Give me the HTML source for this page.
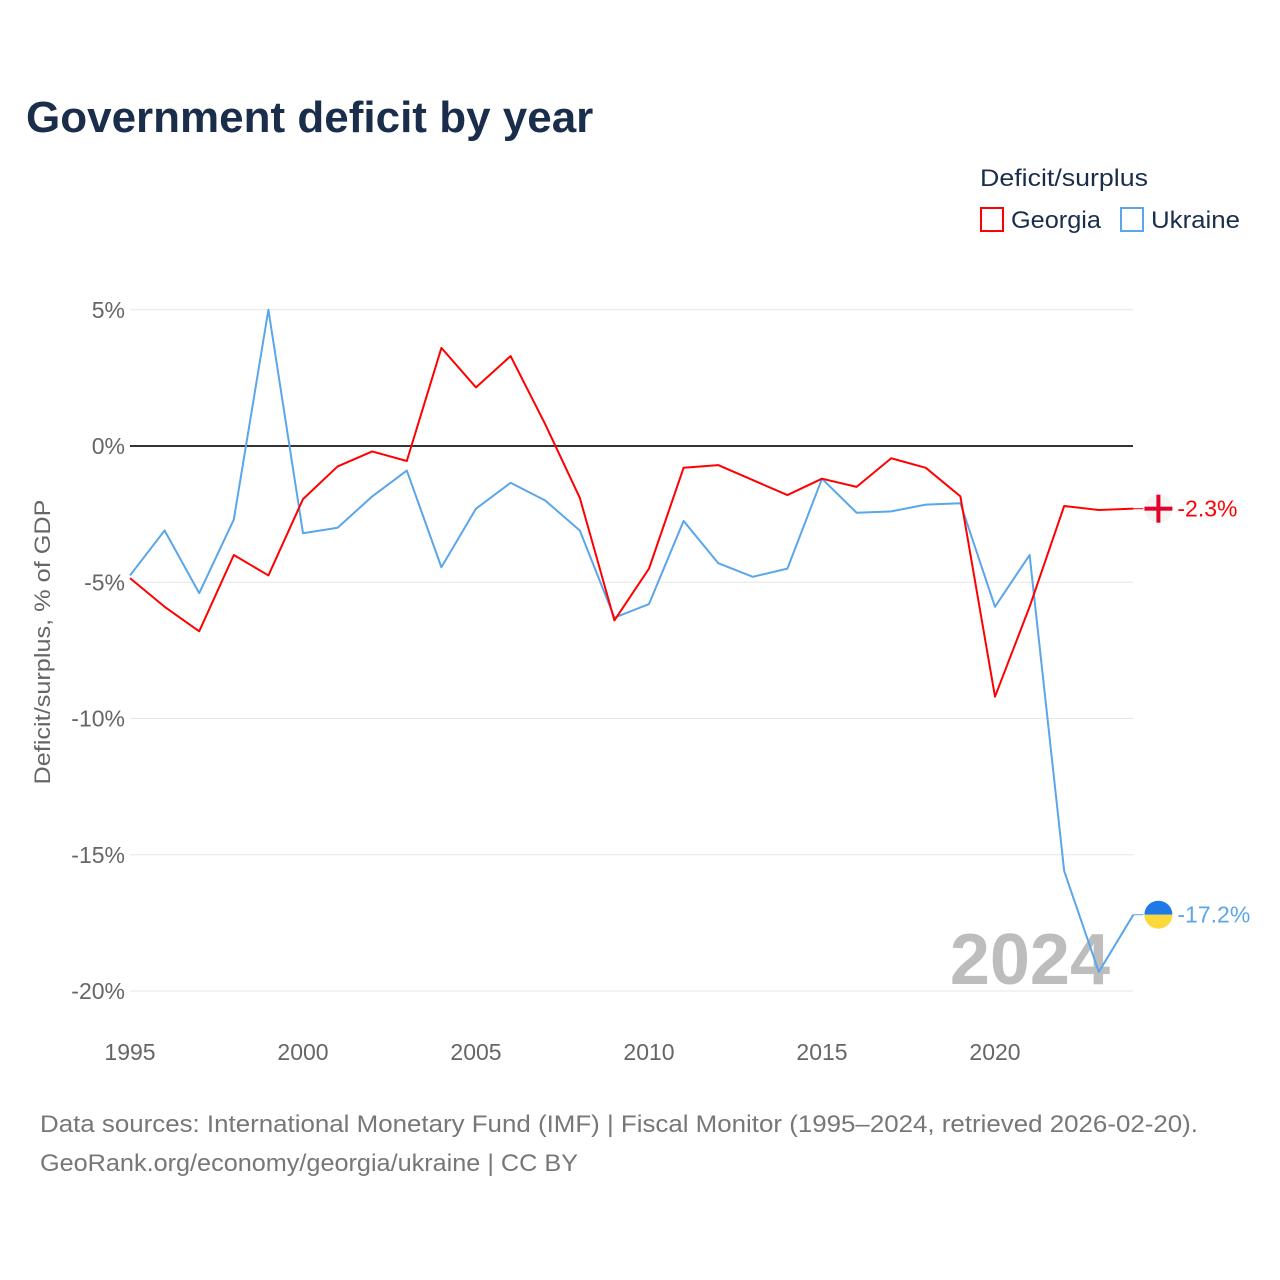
<!DOCTYPE html>
<html><head><meta charset="utf-8"><style>
body{margin:0;background:#fff;font-family:"Liberation Sans",sans-serif;}
#wrap{position:relative;width:1280px;height:1280px;}
</style></head><body>
<div id="wrap">
<svg id="chart" width="1280" height="1280" style="position:absolute;left:0;top:0">
<text x="26" y="132" font-size="44" font-weight="bold" fill="#1a2e4c">Government deficit by year</text>
<text x="980" y="186" font-size="24" fill="#1a2e4c" textLength="168" lengthAdjust="spacingAndGlyphs">Deficit/surplus</text>
<g><rect x="981" y="208" width="22" height="23" fill="none" stroke="#ff0000" stroke-width="2"/><text x="1011" y="228" font-size="24" fill="#1a2e4c" textLength="90" lengthAdjust="spacingAndGlyphs">Georgia</text></g>
<g><rect x="1121" y="208" width="22" height="23" fill="none" stroke="#5aa6ea" stroke-width="2"/><text x="1151" y="228" font-size="24" fill="#1a2e4c" textLength="89" lengthAdjust="spacingAndGlyphs">Ukraine</text></g>
<text transform="translate(50,642) rotate(-90)" text-anchor="middle" font-size="22" fill="#666" textLength="285" lengthAdjust="spacingAndGlyphs">Deficit/surplus, % of GDP</text>
<g id="grid"></g><g id="xt"></g>
<text x="1110" y="984" text-anchor="end" font-size="72" font-weight="bold" fill="#bdbdbd">2024</text>
<g id="series"></g>
<text x="40" y="1132" font-size="24" fill="#777" textLength="1158" lengthAdjust="spacingAndGlyphs">Data sources: International Monetary Fund (IMF) | Fiscal Monitor (1995–2024, retrieved 2026-02-20).</text>
<text x="40" y="1171" font-size="24" fill="#777" textLength="538" lengthAdjust="spacingAndGlyphs">GeoRank.org/economy/georgia/ukraine | CC BY</text>
</svg></div>
<script>
const years=[1995,1996,1997,1998,1999,2000,2001,2002,2003,2004,2005,2006,2007,2008,2009,2010,2011,2012,2013,2014,2015,2016,2017,2018,2019,2020,2021,2022,2023,2024];
const georgia=[-4.85,-5.9,-6.8,-4.0,-4.75,-1.95,-0.75,-0.2,-0.55,3.6,2.15,3.3,0.8,-1.9,-6.4,-4.5,-0.8,-0.7,-1.25,-1.8,-1.2,-1.5,-0.45,-0.8,-1.85,-9.2,-5.9,-2.2,-2.35,-2.3];
const ukraine=[-4.75,-3.1,-5.4,-2.7,5.0,-3.2,-3.0,-1.85,-0.9,-4.45,-2.3,-1.35,-2.0,-3.1,-6.3,-5.8,-2.75,-4.3,-4.8,-4.5,-1.2,-2.45,-2.4,-2.15,-2.1,-5.9,-4.0,-15.6,-19.3,-17.2];
const yTicks=[5,0,-5,-10,-15,-20];
const xTicks=[1995,2000,2005,2010,2015,2020];
const NS="http://www.w3.org/2000/svg";
const X=y=>130+(y-1995)*34.6;
const Y=v=>446-v*27.25;
function mk(tag,attrs,parent){const e=document.createElementNS(NS,tag);for(const k in attrs)e.setAttribute(k,attrs[k]);parent.appendChild(e);return e;}
const grid=document.getElementById('grid'),xt=document.getElementById('xt'),ser=document.getElementById('series');
yTicks.forEach(t=>{
  const l=mk('line',{x1:130,x2:1133,y1:Y(t),y2:Y(t),stroke:t===0?'#333':'#e6e6e6','stroke-width':t===0?2:1},grid);
  
  
  const tx=mk('text',{x:125,y:Y(t)+8,'text-anchor':'end','font-size':23,fill:'#666'},grid);
  tx.textContent=t+'%';
  
  
});
xTicks.forEach(t=>{
  const tx=mk('text',{x:X(t),y:1060,'text-anchor':'middle','font-size':23,fill:'#666'},xt);
  tx.textContent=t;
  
  
});
function line(vals,color,name){
  const p=vals.map((v,i)=>X(years[i])+','+Y(v)).join(' ');
  const pl=mk('polyline',{points:p,fill:'none',stroke:color,'stroke-width':2,'stroke-linejoin':'round'},ser);
  
  
  const last=vals[vals.length-1],lx=X(years[years.length-1]),ly=Y(last);
  mk('line',{x1:lx,x2:lx+10,y1:ly,y2:ly,stroke:color,'stroke-width':1},ser);
  const g=mk('g',{},ser);
  
  
  const cx=lx+25;
  if(name==='georgia'){
    mk('circle',{cx:cx,cy:ly,r:14,fill:'#f4f4f4'},g);
    mk('rect',{x:cx-14,y:ly-2,width:28,height:4,fill:'#e4002b'},g);
    mk('rect',{x:cx-2,y:ly-14,width:4,height:28,fill:'#e4002b'},g);
  }else{
    mk('path',{d:`M${cx-14},${ly} A14,14 0 0 1 ${cx+14},${ly} Z`,fill:'#1f7ae8'},g);
    mk('path',{d:`M${cx-14},${ly} A14,14 0 0 0 ${cx+14},${ly} Z`,fill:'#fdd83a'},g);
  }
  const t=mk('text',{x:lx+44,y:ly+8,'font-size':23,fill:color},ser);
  t.textContent=last.toFixed(1)+'%';
  
  
}
line(ukraine,'#5aa6ea','ukraine');
line(georgia,'#ff0000','georgia');
</script>
</body></html>
